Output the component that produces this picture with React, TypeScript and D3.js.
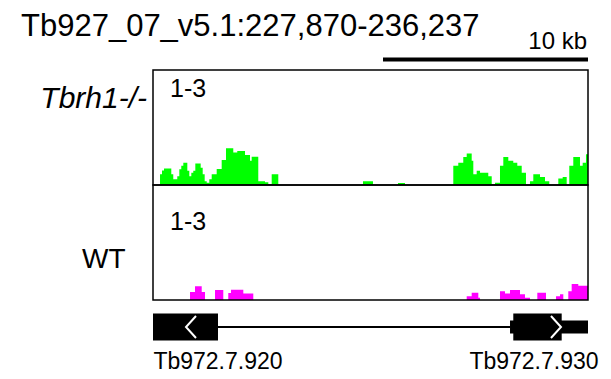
import React from "react";
import * as d3 from "d3";

// region shown
const chrom = "Tb927_07_v5.1";
const regionStart = 227870;
const regionEnd = 236237;
const scaleBarLabel = "10 kb";

// coverage steps: position where the step starts, and its value (0-3 scale)
const greenPos = [
  227870, 228005, 228043, 228082, 228222, 228260, 228337, 228376, 228414, 228453,
  228530, 228568, 228607, 228645, 228684, 228787, 228826, 228864, 228903, 228953,
  228999, 229095, 229191, 229274, 229414, 229491, 229640, 229736, 229768, 229895,
  230024, 230088, 230153, 230280, 231909, 232101, 232582, 232717, 233646, 233742,
  233838, 233904, 234000, 234031, 234096, 234160, 234319, 234385, 234448, 234544,
  234608, 234704, 234800, 234877, 234962, 235044, 235121, 235185, 235314, 235410,
  235492, 235666, 235750, 235827, 235877, 235954, 236019, 236083, 236135, 236198,
];
const greenVal = [
  0, 0.28, 0.38, 0.43, 0.28, 0.15, 0.23, 0.41, 0.5, 0.58,
  0.37, 0.23, 0.32, 0.37, 0.56, 0.45, 0.28, 0.1, 0.06, 0.15,
  0.28, 0.42, 0.65, 0.96, 0.85, 0.89, 0.78, 0.63, 0.74, 0.1,
  0.07, 0.02, 0.28, 0, 0.1, 0, 0.05, 0, 0.5, 0.58,
  0.73, 0.82, 0.63, 0.28, 0.37, 0.32, 0.23, 0.02, 0.06, 0.5,
  0.73, 0.63, 0.58, 0.5, 0.32, 0, 0.1, 0.28, 0.21, 0.1,
  0, 0.17, 0.21, 0, 0.5, 0.73, 0.73, 0.5, 0.58, 0.8,
];

const magentaPos = [
  227870, 228582, 228678, 228807, 228870, 229063, 229222, 229318, 229370, 229607,
  229799, 233904, 234000, 234127, 234160, 234544, 234640, 234737, 234929, 235025,
  235121, 235262, 235429, 235622, 235699, 235762, 235858, 235923, 236050,
];
const magentaVal = [
  0, 0.21, 0.36, 0.21, 0, 0.26, 0, 0.18, 0.27, 0.17,
  0, 0.1, 0.19, 0.06, 0, 0.23, 0.17, 0.26, 0.15, 0.06,
  0, 0.19, 0, 0.1, 0.15, 0, 0.23, 0.42, 0.37,
];

const trackNames = ["Tbrh1-/-", "WT"];
const trackRange = ["1-3", "1-3"];
const trackColors = ["#00ff00", "#ff00ff"];

// genes
const geneNames = ["Tb972.7.920", "Tb972.7.930"];
const geneStart = [227780, 234737];
const geneEnd = [229120, 236400];
const cdsStart = [227780, 234800];
const cdsEnd = [229120, 235731];
const geneStrand = ["-", "+"];
const chevronAt = [228601, 235621];

const W = 611, H = 379;
const left = 153, right = 588;
const panelTop = [70, 185];
const panelH = 115;

export default function App() {
  const x = d3.scaleLinear().domain([regionStart, regionEnd]).range([left, right]);

  const tracks = [
    { pos: greenPos, val: greenVal },
    { pos: magentaPos, val: magentaVal },
  ];

  const geneY = 327;
  const thick = 27, thin = 13;
  const clampX = (v: number) => Math.max(left, Math.min(right, x(v)));

  return (
    <svg width={W} height={H} style={{ position: "absolute", left: 0, top: 0, fontFamily: "Liberation Sans, Arial, sans-serif" }}>
      <rect width={W} height={H} fill="#fff" />
      <text x={21} y={36} fontSize={31}>
        {chrom}:{d3.format(",")(regionStart)}-{d3.format(",")(regionEnd)}
      </text>
      <line x1={383} x2={588} y1={59.5} y2={59.5} stroke="#000" strokeWidth={4} />
      <text x={587} y={49} fontSize={24} textAnchor="end">{scaleBarLabel}</text>

      {tracks.map((t, i) => {
        const y0 = panelTop[i] + panelH;
        const y = d3.scaleLinear().domain([0, 3]).range([y0, panelTop[i]]);
        const pts = t.pos.map((p, j) => [p, t.val[j]] as [number, number]);
        pts.push([regionEnd, t.val[t.val.length - 1]]);
        const area = d3.area<[number, number]>()
          .x((d) => x(d[0]))
          .y0(y0)
          .y1((d) => y(d[1]))
          .curve(d3.curveStepAfter);
        return (
          <g key={i}>
            <path d={area(pts) || ""} fill={trackColors[i]} />
            <rect x={left} y={panelTop[i]} width={right - left} height={panelH} fill="none" stroke="#000" strokeWidth={1.5} />
            <text x={170} y={i === 0 ? 97 : 230} fontSize={25}>{trackRange[i]}</text>
            {i === 0 ? (
              <text x={147} y={108} fontSize={30} textAnchor="end" fontStyle="italic">{trackNames[i]}</text>
            ) : (
              <text x={82} y={268} fontSize={28}>{trackNames[i]}</text>
            )}
          </g>
        );
      })}

      {/* gene track */}
      <line x1={clampX(geneEnd[0])} x2={clampX(geneStart[1])} y1={geneY} y2={geneY} stroke="#000" strokeWidth={2} />
      {geneNames.map((g, i) => {
        const gx0 = clampX(geneStart[i]), gx1 = clampX(geneEnd[i]);
        const cx0 = clampX(cdsStart[i]), cx1 = clampX(cdsEnd[i]);
        const cx = x(chevronAt[i]);
        const dir = geneStrand[i] === "+" ? 1 : -1;
        return (
          <g key={g}>
            <rect x={gx0} y={geneY - thin / 2} width={gx1 - gx0} height={thin} fill="#000" />
            <rect x={cx0} y={geneY - thick / 2} width={cx1 - cx0} height={thick} fill="#000" />
            <path
              d={`M${cx - dir * 5},${geneY - 11}L${cx + dir * 5},${geneY}L${cx - dir * 5},${geneY + 11}`}
              fill="none" stroke="#fff" strokeWidth={2}
            />
            <text x={i === 0 ? 218 : 534} y={369} fontSize={23} textAnchor="middle">{g}</text>
          </g>
        );
      })}
    </svg>
  );
}
